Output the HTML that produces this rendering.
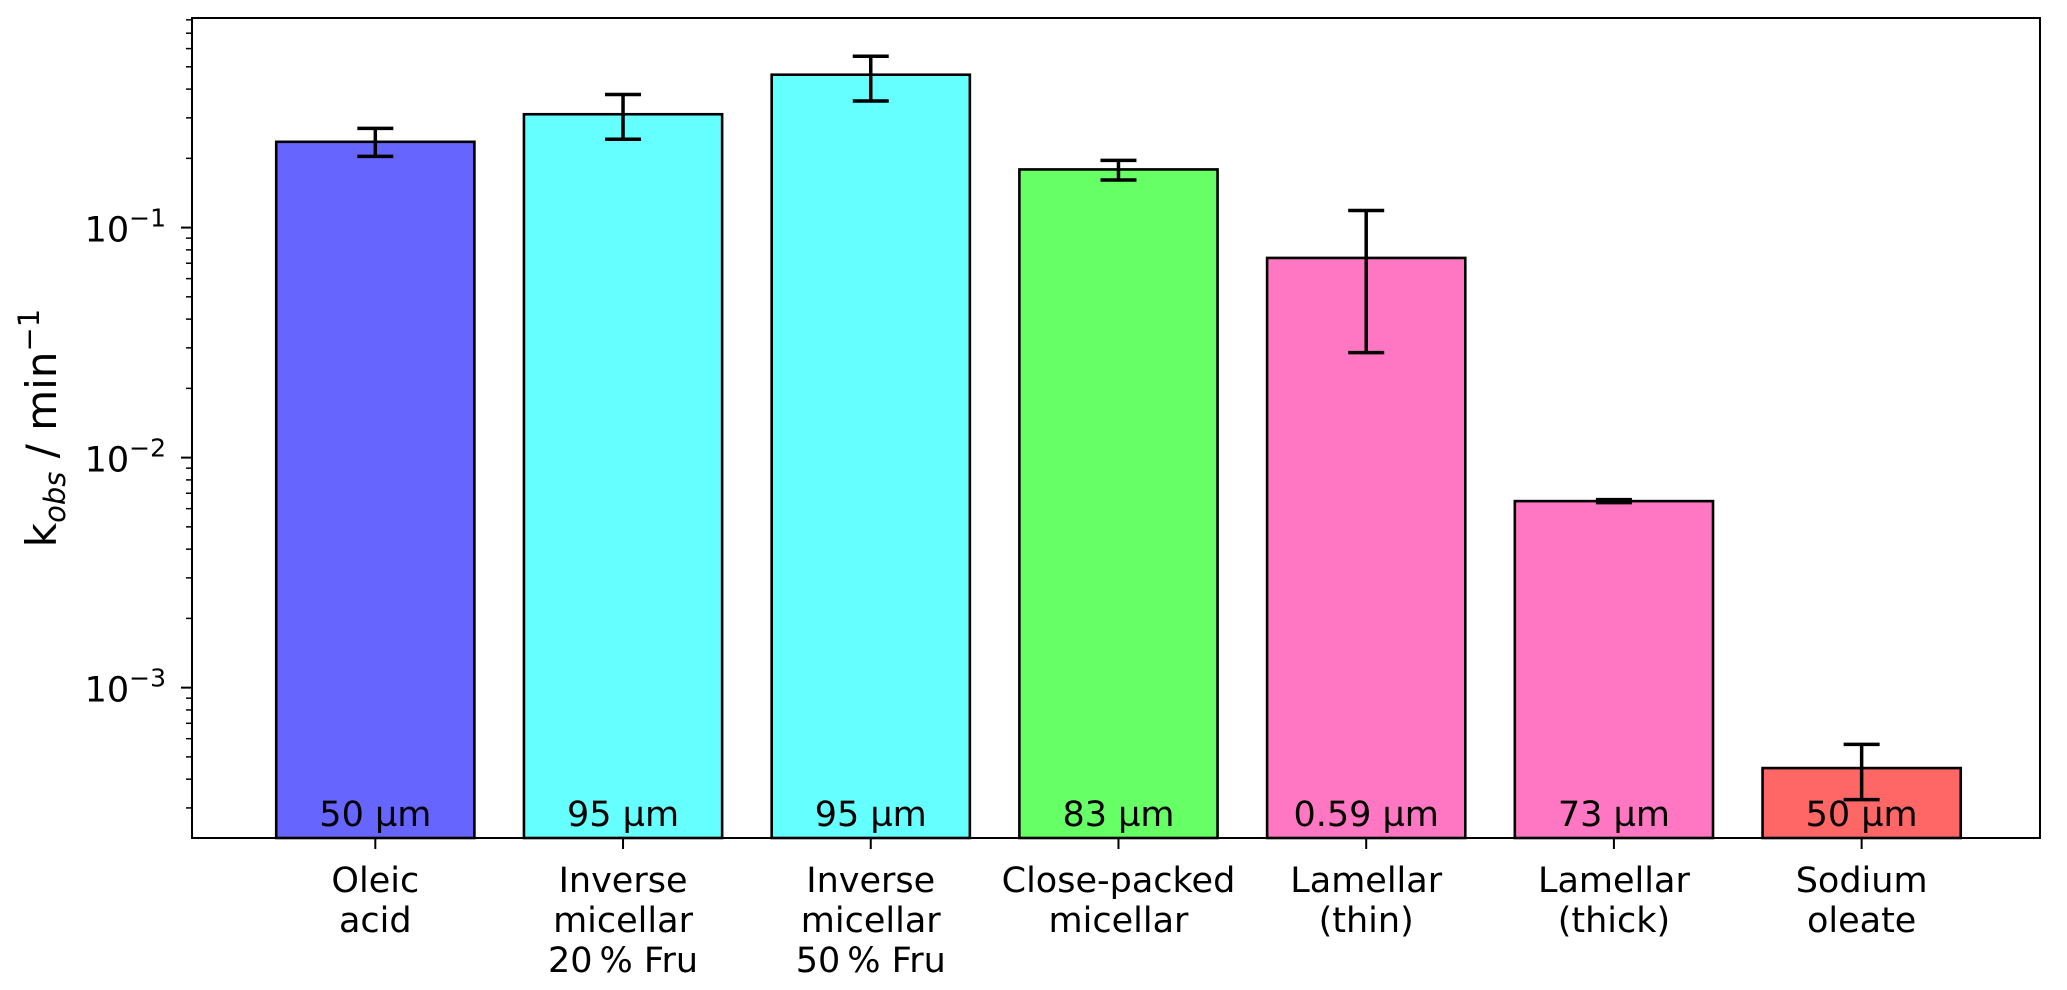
<!DOCTYPE html>
<html><head><meta charset="utf-8"><style>
html,body{margin:0;padding:0;background:#fff;}
svg{display:block;font-family:"DejaVu Sans","Liberation Sans",sans-serif;}
</style></head><body>
<svg id="chart" width="2067" height="990" viewBox="0 0 2067 990"></svg>
<script>
const categories=[["Oleic","acid"],["Inverse","micellar","20\u2009% Fru"],["Inverse","micellar","50\u2009% Fru"],["Close-packed","micellar"],["Lamellar","(thin)"],["Lamellar","(thick)"],["Sodium","oleate"]];
const values=[0.236,0.311,0.462,0.179,0.0738,0.00647,0.000447];
const errLow=[0.204,0.242,0.355,0.161,0.0286,0.00637,0.000326];
const errHigh=[0.270,0.379,0.556,0.196,0.1187,0.00657,0.000567];
const sizeLabels=["50 µm","95 µm","95 µm","83 µm","0.59 µm","73 µm","50 µm"];
const colors=["#6666ff","#66ffff","#66ffff","#66ff66","#ff77c2","#ff77c2","#ff6666"];
const yTicks=[-3,-2,-1];

const NS="http://www.w3.org/2000/svg";
const svg=document.getElementById('chart');
const L=192,R=2040,T=18,B=838;
const xMin=-0.74,xMax=6.72,yMinL=Math.log10(2.22e-4),yMaxL=Math.log10(0.815);
const xs=v=>L+(v-xMin)/(xMax-xMin)*(R-L);
const ys=v=>B-(Math.log10(v)-yMinL)/(yMaxL-yMinL)*(B-T);
function mk(tag,attrs,parent){const e=document.createElementNS(NS,tag);for(const k in attrs)e.setAttribute(k,attrs[k]);(parent||svg).appendChild(e);return e;}
const bw=xs(0.8)-xs(0);
values.forEach((v,i)=>{
  const g=mk('g',{});
  
  
  const r=mk('rect',{x:xs(i)-bw/2,y:ys(v),width:bw,height:B-ys(v),fill:colors[i],stroke:'#000','stroke-width':2.6},g);
  
  
  const t=mk('text',{x:xs(i),y:826,'text-anchor':'middle','font-size':35,fill:'#000'},g);
  t.textContent=sizeLabels[i];
  
  
  const eg=mk('g',{stroke:'#000','stroke-width':3.5},g);
  
  
  const cx=xs(i);
  mk('line',{x1:cx,x2:cx,y1:ys(errLow[i]),y2:ys(errHigh[i])},eg);
  mk('line',{x1:cx-18,x2:cx+18,y1:ys(errLow[i]),y2:ys(errLow[i])},eg);
  mk('line',{x1:cx-18,x2:cx+18,y1:ys(errHigh[i]),y2:ys(errHigh[i])},eg);
  const lab=mk('text',{'text-anchor':'middle','font-size':35,fill:'#000'});
  
  
  categories[i].forEach((s,j)=>{const ts=mk('tspan',{x:cx,y:892+j*40},lab);ts.textContent=s;});
  mk('line',{x1:cx,x2:cx,y1:B,y2:B+11,stroke:'#000','stroke-width':2});
});
for(let d=-4;d<=0;d++){for(let m=1;m<10;m++){const v=m*Math.pow(10,d);if(v<2.22e-4||v>0.815)continue;
  const major=m===1;
  mk('line',{x1:L,x2:L-(major?11:6),y1:ys(v),y2:ys(v),stroke:'#000','stroke-width':major?2:1.5});}}
yTicks.forEach(e=>{
  const t=mk('text',{x:L-26,y:ys(Math.pow(10,e))+14,'text-anchor':'end','font-size':35,fill:'#000'});
  
  
  t.textContent='10';
  const s=mk('tspan',{dy:-15,'font-size':25},t);s.textContent='\u2212'+(-e);
});
const frame=mk('rect',{x:L,y:T,width:R-L,height:B-T,fill:'none',stroke:'#000','stroke-width':2});


const yl=mk('text',{transform:'translate(56,428) rotate(-90)','text-anchor':'middle','font-size':42,fill:'#000'});


yl.innerHTML='k<tspan dy="9" font-size="29" font-style="italic">obs</tspan><tspan dy="-9"> / min</tspan><tspan dy="-17" font-size="29">\u22121</tspan>';
</script>
</body></html>
